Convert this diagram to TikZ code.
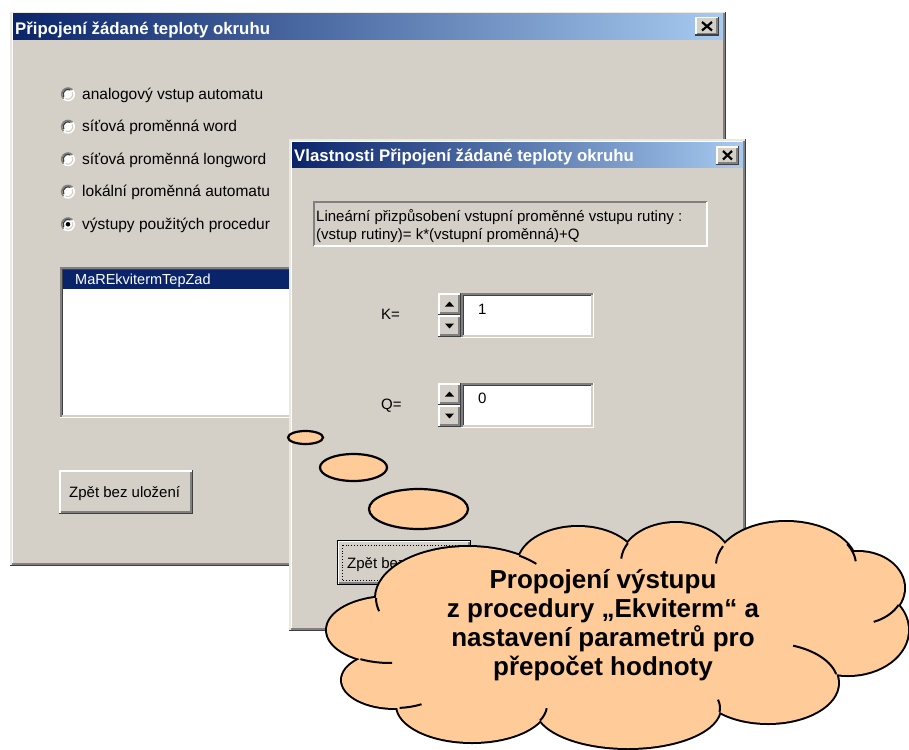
\documentclass[tikz,border=0pt]{standalone}
\usepackage{fontspec}
\setmainfont{Liberation Sans}
\usetikzlibrary{calc}

\definecolor{face}{HTML}{D4D0C8}
\definecolor{shadowgray}{HTML}{808080}
\definecolor{darkedge}{HTML}{404040}
\definecolor{titledark}{HTML}{0A246A}
\definecolor{titlelight}{HTML}{A6CAF0}
\definecolor{selblue}{HTML}{0A246A}
\definecolor{peach}{HTML}{FFCC99}

% raised 3D box (buttons): x1 y1 x2 y2, y grows downwards
\newcommand\guiRaised[4]{%
  \fill[face] (#1,#2) rectangle (#3,#4);
  \draw[white,line width=1.5] (#1+0.75,#4-1.5) |- (#3-1.5,#2+0.75);
  \draw[darkedge,line width=1.5] (#1,#4-0.75) -| (#3-0.75,#2);
  \draw[shadowgray,line width=1.5] (#1+1.5,#4-2.25) -| (#3-2.25,#2+1.5);
}
% dialog window frame
\newcommand\guiFrame[4]{%
  \fill[face] (#1,#2) rectangle (#3,#4);
  \draw[face!50!white,line width=1.5] (#1+0.75,#4-1.5) |- (#3-1.5,#2+0.75);
  \draw[white,line width=1.5] (#1+2.25,#4-3) |- (#3-3,#2+2.25);
  \draw[darkedge,line width=1.5] (#1,#4-0.75) -| (#3-0.75,#2);
  \draw[shadowgray,line width=1.5] (#1+1.5,#4-2.25) -| (#3-2.25,#2+1.5);
}
% sunken white field (list box, edit box)
\newcommand\guiSunken[4]{%
  \fill[white] (#1,#2) rectangle (#3,#4);
  \draw[shadowgray,line width=1.5] (#1+0.75,#4) |- (#3,#2+0.75);
  \draw[darkedge,line width=1.5] (#1+2.25,#4-1.5) |- (#3-1.5,#2+2.25);
  \draw[white,line width=1.5] (#1,#4-0.75) -| (#3-0.75,#2);
  \draw[face,line width=1.5] (#1+1.5,#4-2.25) -| (#3-2.25,#2+1.5);
}
% radio button circle
\newcommand\guiRadio[2]{%
  \fill[white] (#1,#2) circle[radius=7];
  \draw[shadowgray,line width=1.6] ({#1+6.3*cos(135)},{#2+6.3*sin(135)}) arc[start angle=135,end angle=315,radius=6.3];
  \draw[darkedge,line width=1.3] ({#1+4.9*cos(150)},{#2+4.9*sin(150)}) arc[start angle=150,end angle=300,radius=4.9];
  \draw[face,line width=1.2] ({#1+4.9*cos(-30)},{#2+4.9*sin(-30)}) arc[start angle=-30,end angle=120,radius=4.9];
}
% close button with an X
\newcommand\guiClose[4]{%
  \guiRaised{#1}{#2}{#3}{#4}
  \draw[black,line width=2.2] (#1+7,#2+5) -- (#3-7,#4-5.5);
  \draw[black,line width=2.2] (#1+7,#4-5.5) -- (#3-7,#2+5);
}

\begin{document}
\begin{tikzpicture}[x=1pt,y=-1pt,
  ui/.style={inner sep=0pt,anchor=base west,font=\fontsize{15}{18}\selectfont},
  titletext/.style={inner sep=0pt,anchor=base west,text=white,font=\fontsize{16.8}{20}\selectfont\bfseries},
  bubble/.style={fill=peach,draw=black,line width=2.2},
  cloudline/.style={inner sep=0pt,anchor=base,font=\fontsize{26}{29}\selectfont\bfseries}]

\useasboundingbox (0,0) rectangle (909,749);
\fill[white] (0,0) rectangle (909,749);

% ---------- main dialog ----------
\guiFrame{10}{12}{726}{566}
\shade[left color=titledark,right color=titlelight] (13,14) rectangle (723,39.5);
\node[titletext] (title1) at (15,34.5) {Připojení žádané teploty okruhu};
\guiClose{695}{17}{719}{36}

\foreach \y/\lab [count=\i] in {94.3/{analogový vstup automatu},126.7/{síťová proměnná word},159.3/{síťová proměnná longword},191.7/{lokální proměnná automatu},224.3/{výstupy použitých procedur}}{
  \guiRadio{68}{\y}
  \node[ui,font=\fontsize{15.5}{18}\selectfont] (opt\i) at (82,\y+5) {\lab};
}
\fill[black] (68,224.3) circle[radius=2.3];

\guiSunken{60}{267}{300}{418}
\fill[selblue] (62.5,269.5) rectangle (300,288.5);
\node[ui,text=white,font=\fontsize{14.5}{17}\selectfont] (item) at (75,284.5) {MaREkvitermTepZad};

\guiRaised{59}{470}{193}{514}
\node[ui] (back1) at (69,497.5) {Zpět bez uložení};

% ---------- properties dialog ----------
\guiFrame{289}{139}{746}{631}
\shade[left color=titledark,right color=titlelight] (292,142) rectangle (743,167.5);
\node[titletext] (title2) at (294,161) {Vlastnosti Připojení žádané teploty okruhu};
\guiClose{716}{146}{739}{165}

\draw[shadowgray,line width=1.2] (314,246) |- (707,202);
\draw[white,line width=1.2] (314,246) -| (707,202);
\node[ui] (formula1) at (316,221.7) {Lineární přizpůsobení vstupní proměnné vstupu rutiny :};
\node[ui] (formula2) at (316,239.5) {(vstup rutiny)= k*(vstupní proměnná)+Q};

\node[ui] (klabel) at (381,319) {K=};
\guiRaised{438}{293}{461}{315}
\guiRaised{438}{315}{461}{337}
\fill[black] (445,306.5) -- (454,306.5) -- (449.5,301.5) -- cycle;
\fill[black] (445,323.5) -- (454,323.5) -- (449.5,328.5) -- cycle;
\guiSunken{461}{293}{594}{338}
\node[ui] (kval) at (478,314) {1};

\node[ui] (qlabel) at (381,409) {Q=};
\guiRaised{438}{383}{461}{405}
\guiRaised{438}{405}{461}{427}
\fill[black] (445,396.5) -- (454,396.5) -- (449.5,391.5) -- cycle;
\fill[black] (445,413.5) -- (454,413.5) -- (449.5,418.5) -- cycle;
\guiSunken{461}{383}{594}{428}
\node[ui] (qval) at (478,403.5) {0};

\guiRaised{337}{540}{471}{585}
\draw[black,line width=1] (337.5,540.5) rectangle (470.5,584.5);
\draw[black,line width=0.8,dotted] (342,545) rectangle (466,580);
\node[ui] (back2) at (347,568) {Zpět bez uložení};

% ---------- thought bubbles ----------
\draw[bubble] (305.5,437.5) ellipse[x radius=17.5,y radius=6.5];
\draw[bubble] (353.5,467.5) ellipse[x radius=33.5,y radius=13.5];
\draw[bubble] (418.5,509) ellipse[x radius=49.5,y radius=20];

% ---------- cloud callout ----------
\def\puffs{468/598/92/51,578/565/60/38,676/562/55/39,786/565/70/43,858/588/46/36,848/630/60/45,768/683/70/40,628/708/92/40,472/705/75/37,395/680/53/28,390/630/63/33}
\foreach \cx/\cy/\rx/\ry in \puffs
  \draw[black,line width=4] (\cx,\cy) ellipse[x radius=\rx,y radius=\ry];
\foreach \cx/\cy/\rx/\ry in \puffs
  \fill[peach] (\cx,\cy) ellipse[x radius=\rx,y radius=\ry];
\fill[peach] (620,635) ellipse[x radius=225,y radius=80];
% inner arcs at the joins of the puffs
\foreach \cx/\cy/\rx/\ry/\a/\b in {468/598/92/51/-56/-42,468/598/92/51/180/165,676/562/55/39/-151/-175,786/565/70/43/-154/-178,786/565/70/43/-29/-5,858/588/46/36/28/70,768/683/70/40/-13/-69,628/708/92/40/6/-12,472/705/75/37/25/5,395/680/53/28/85/60,390/630/63/33/118/88}
  \draw[black,line width=2] ({\cx+\rx*cos(\a)},{\cy+\ry*sin(\a)}) arc[start angle=\a,end angle=\b,x radius=\rx,y radius=\ry];

\node[cloudline] (c1) at (603,588.5) {Propojení výstupu};
\node[cloudline] (c2) at (603,617.5) {z procedury „Ekviterm“ a};
\node[cloudline] (c3) at (603,646.5) {nastavení parametrů pro};
\node[cloudline] (c4) at (603,675.5) {přepočet hodnoty};

\end{tikzpicture}
\end{document}
